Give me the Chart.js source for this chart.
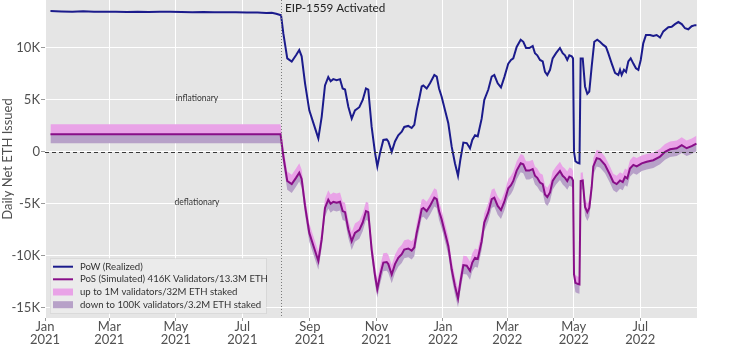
<!DOCTYPE html>
<html>
<head>
<meta charset="utf-8">
<script src="https://cdn.jsdelivr.net/npm/chart.js@4.4.1/dist/chart.umd.min.js"></script>
<style>
html,body{margin:0;padding:0;background:#fff;}
canvas{display:block;}
</style>
</head>
<body>
<canvas id="c" width="737" height="356"></canvas>
<script>
// x = days since 1 Jan 2021, y = thousands of ETH per day
const tickDays = [0, 59, 120, 181, 243, 304, 365, 424, 485, 546];
const tickLabels = [["Jan","2021"],["Mar","2021"],["May","2021"],["Jul","2021"],["Sep","2021"],["Nov","2021"],["Jan","2022"],["Mar","2022"],["May","2022"],["Jul","2022"]];
const yTicks = [-15, -10, -5, 0, 5, 10];
const activationDay = 216;

const powDays = [5,15,25,35,45,55,65,75,85,95,105,115,125,135,145,155,165,175,185,195,203,208,212,215,216.5,
218.6,222.2,226.3,230.2,233.2,235.4,238.5,242.4,246.7,250.7,253.8,256.8,259.8,262,264.4,267.5,270.6,273,275.2,278.2,281.3,284.3,288.3,291.4,294.4,296.5,299.6,302.7,304.8,307.3,310.3,313.4,314.9,318,321,324,327.2,329.5,333.2,336.3,338.7,340.9,343,345.5,347,350.1,353.1,357.1,359.3,361.4,363.8,366.9,369.9,373,376,378.8,380.9,383.7,386.8,389.8,391.9,394.4,396.9,400.5,402.9,406.6,409.7,412.1,415.2,418.2,421.3,424.9,427.4,429.5,432.6,436.3,438.7,441.2,444.2,447.3,449.4,451.5,454,456.5,458.6,460.7,463.2,465.6,468.7,472.3,474.8,476.9,479,480.9,483.1,484.3,485.2,486.5,488.5,490.2,491.3,493.2,495.3,497.4,499.2,501.4,503.8,506.5,509,512,514.5,516.6,519.8,522.8,525.8,527.4,528.9,531,532.9,535,537.2,539.6,542,544.2,546.4,548.7,551.2,554.9,557.9,561,564.1,567.1,571.7,574.8,577.8,580.9,584,587,590,593.1,596.2,597.5];
const powValues = [13.55,13.52,13.5,13.53,13.5,13.48,13.5,13.47,13.5,13.46,13.48,13.5,13.47,13.45,13.47,13.45,13.43,13.45,13.42,13.42,13.38,13.4,13.3,13.2,13.15,
11.4,9.0,8.7,9.3,9.8,9.2,6.6,4.0,2.6,1.3,3.4,6.4,7.2,6.8,7.0,6.9,7.0,6.1,6.0,4.35,3.2,4.0,4.3,5.0,6.1,6.0,2.4,-0.1,-1.4,-0.1,1.15,1.2,1.0,0.0,1.0,1.6,1.95,2.4,2.5,2.3,2.6,4.0,5.0,6.3,6.4,6.1,6.6,7.4,7.25,6.1,5.3,4.0,2.75,0.5,-1.1,-2.3,-0.8,0.9,0.85,0.35,1.15,1.6,1.5,3.2,5.0,6.0,7.25,7.4,6.6,6.2,7.2,8.5,8.85,9.0,10.1,10.8,10.6,10.0,10.0,10.2,9.5,9.3,8.85,8.7,7.7,7.4,7.9,9.0,9.5,10.0,9.5,9.3,8.85,9.3,9.2,9.0,0.0,-0.9,-1.05,-1.1,9.0,9.0,6.3,5.6,5.8,8.2,10.6,10.8,10.6,10.3,10.1,9.5,8.5,7.6,7.4,7.9,7.4,7.9,7.7,8.7,9.0,8.5,8.05,7.9,8.85,10.45,11.25,11.25,11.15,11.25,11.0,11.6,12.0,12.05,12.3,12.5,12.3,11.9,11.8,12.1,12.2,12.2];

const posDays = [5,216,
218.6,222.2,226.3,230.2,233.2,235.4,238.5,242.4,246.7,250.7,253.8,256.8,259.8,262,264.4,267.5,270.6,273,275.2,278.2,281.3,284.3,288.3,291.4,294.4,296.5,299.6,302.7,304.8,307.3,310.3,313.4,314.9,318,321,324,327.2,329.5,333.2,336.3,338.7,340.9,343,345.5,347,350.1,353.1,357.1,359.3,361.4,363.8,366.9,369.9,373,376,378.8,380.9,383.7,386.8,389.8,391.9,394.4,396.9,400.5,402.9,406.6,409.7,412.1,415.2,418.2,421.3,424.9,427.4,429.5,432.6,436.3,438.7,441.2,444.2,447.3,449.4,451.5,454,456.5,458.6,460.7,463.2,465.6,468.7,472.3,474.8,476.9,479,480.9,483.1,484.3,485.2,486.5,488.5,490.2,491.3,493.2,495.3,497.4,499.2,501.4,502.9,506,509,513.6,518.2,521.2,524.3,527.4,529.9,532,534.1,536.5,539.6,542.7,547.3,551.9,557.9,564.1,568.7,573.3,579.4,584,588.5,593.1,597.5];
const posValues = [1.7,1.7,
-0.4,-2.8,-3.1,-2.5,-2.0,-2.6,-5.2,-7.8,-9.2,-10.5,-8.4,-5.4,-4.6,-5.0,-4.8,-4.9,-4.8,-5.7,-5.8,-7.45,-8.6,-7.8,-7.5,-6.8,-5.7,-5.8,-9.4,-11.9,-13.2,-11.9,-10.65,-10.6,-10.8,-11.8,-10.8,-10.2,-9.85,-9.4,-9.3,-9.5,-9.2,-7.8,-6.8,-5.5,-5.4,-5.7,-5.2,-4.4,-4.55,-5.7,-6.5,-7.8,-9.05,-11.3,-12.9,-14.1,-12.6,-10.9,-10.95,-11.45,-10.65,-10.2,-10.3,-8.6,-6.8,-5.8,-4.55,-4.4,-5.2,-5.6,-4.8,-3.5,-3.2,-2.8,-1.8,-1.1,-1.2,-1.8,-1.8,-1.65,-2.3,-2.5,-2.95,-3.1,-4.1,-4.35,-3.9,-2.8,-2.3,-1.85,-2.3,-2.5,-2.8,-2.4,-2.5,-2.75,-11.8,-12.6,-12.7,-12.75,-2.8,-2.75,-5.3,-5.8,-5.4,-3.4,-1.4,-0.6,-0.7,-1.25,-2.2,-2.9,-3.1,-2.75,-2.9,-2.4,-2.55,-1.6,-1.25,-1.4,-1.1,-0.95,-0.8,-0.45,0.0,0.25,0.35,0.65,0.35,0.55,0.8];
const posHigh = [2.65,2.65,
0.5,-1.9,-2.2,-1.6,-1.1,-1.7,-4.3,-6.9,-8.3,-9.6,-7.5,-4.5,-3.7,-4.1,-3.9,-4.0,-3.9,-4.8,-4.9,-6.55,-7.7,-6.9,-6.6,-5.9,-4.8,-4.9,-8.5,-11.0,-12.3,-11.0,-9.75,-9.7,-9.9,-10.9,-9.9,-9.3,-8.95,-8.5,-8.4,-8.6,-8.3,-6.9,-5.9,-4.6,-4.5,-4.8,-4.3,-3.5,-3.65,-4.8,-5.6,-6.9,-8.15,-10.4,-12.0,-13.2,-11.7,-10.0,-10.05,-10.55,-9.75,-9.3,-9.4,-7.7,-5.9,-4.9,-3.65,-3.5,-4.3,-4.7,-3.9,-2.6,-2.3,-1.9,-0.9,-0.2,-0.3,-0.9,-0.9,-0.75,-1.4,-1.6,-2.05,-2.2,-3.2,-3.45,-3.0,-1.9,-1.4,-0.95,-1.4,-1.6,-1.9,-1.5,-1.6,-1.85,-11.0,-11.85,-12.0,-12.05,-2.0,-1.95,-4.5,-5.0,-4.6,-2.6,-0.6,0.2,0.1,-0.45,-1.4,-2.1,-2.3,-1.95,-2.1,-1.6,-1.75,-0.8,-0.45,-0.6,-0.35,-0.2,-0.05,0.3,0.75,1.0,1.1,1.4,1.1,1.3,1.55];
const posLow = [0.83,0.83,
-1.25,-3.65,-3.95,-3.35,-2.85,-3.45,-6.05,-8.65,-10.05,-11.35,-9.25,-6.25,-5.45,-5.85,-5.65,-5.75,-5.65,-6.55,-6.65,-8.3,-9.45,-8.65,-8.35,-7.65,-6.55,-6.65,-10.25,-12.75,-14.05,-12.75,-11.5,-11.45,-11.65,-12.65,-11.65,-11.05,-10.7,-10.25,-10.15,-10.35,-10.05,-8.65,-7.65,-6.35,-6.25,-6.55,-6.05,-5.25,-5.4,-6.55,-7.35,-8.65,-9.9,-12.15,-13.75,-14.95,-13.45,-11.75,-11.8,-12.3,-11.5,-11.05,-11.15,-9.45,-7.65,-6.65,-5.4,-5.25,-6.05,-6.45,-5.65,-4.35,-4.05,-3.65,-2.65,-1.95,-2.05,-2.65,-2.65,-2.5,-3.15,-3.35,-3.8,-3.95,-4.95,-5.2,-4.75,-3.65,-3.15,-2.7,-3.15,-3.35,-3.65,-3.25,-3.35,-3.6,-12.65,-13.5,-13.6,-13.65,-3.65,-3.6,-6.15,-6.65,-6.25,-4.2,-2.2,-1.4,-1.5,-2.05,-3.0,-3.7,-3.9,-3.55,-3.7,-3.2,-3.35,-2.4,-2.05,-2.2,-1.85,-1.7,-1.55,-1.2,-0.75,-0.5,-0.4,-0.1,-0.4,-0.2,0.05];

const legendLabels = ["PoW (Realized)", "PoS (Simulated) 416K Validators/13.3M ETH", "up to 1M validators/32M ETH staked", "down to 100K validators/3.2M ETH staked"];

const C_POW = '#1b1b8c', C_POS = '#880e88', C_UP = '#e9a3e7', C_DOWN = '#b7a1c8';
const FONT = 'Lato, "Open Sans", sans-serif';

const pts = (xs, ys) => xs.map((x, i) => ({x: x, y: ys[i]}));

const decor = {
  id: 'decor',
  beforeDraw(chart) {
    const {ctx, chartArea: a} = chart;
    ctx.save();
    ctx.fillStyle = '#e5e5e5';
    ctx.fillRect(a.left, a.top, a.right - a.left, a.bottom - a.top);
    ctx.restore();
  },
  afterDatasetsDraw(chart) {
    const {ctx, chartArea: a, scales: {x, y}} = chart;
    ctx.save();
    const y0 = Math.round(y.getPixelForValue(0)) + 0.5;
    ctx.strokeStyle = '#3a3a3a'; ctx.lineWidth = 1; ctx.setLineDash([4, 3]);
    ctx.beginPath(); ctx.moveTo(a.left, y0); ctx.lineTo(a.right, y0); ctx.stroke();
    const xv = Math.round(x.getPixelForValue(activationDay)) + 0.5;
    ctx.strokeStyle = '#7a7a7a'; ctx.setLineDash([1, 2]);
    ctx.beginPath(); ctx.moveTo(xv, a.top); ctx.lineTo(xv, a.bottom); ctx.stroke();
    ctx.restore();
  },
  afterDraw(chart) {
    const {ctx, scales: {x, y}} = chart;
    ctx.save();
    const xv = x.getPixelForValue(activationDay);
    ctx.fillStyle = '#222';
    ctx.font = '11.7px ' + FONT;
    ctx.textBaseline = 'alphabetic'; ctx.textAlign = 'left';
    ctx.fillText('EIP-1559 Activated', xv + 4.5, 11.7);
    ctx.font = '8.5px ' + FONT; ctx.fillStyle = '#333';
    ctx.textAlign = 'center'; ctx.textBaseline = 'middle';
    ctx.fillText('inflationary', 197, 98);
    ctx.fillText('deflationary', 197, 202);
    // legend
    ctx.fillStyle = '#ebebeb';
    ctx.fillRect(50, 258.5, 216, 55);
    ctx.strokeStyle = 'rgba(0,0,0,0.06)'; ctx.lineWidth = 1;
    ctx.strokeRect(50.5, 258.5, 216, 55);
    const rows = [266.7, 279.3, 292, 304.7];
    ctx.lineWidth = 2;
    ctx.strokeStyle = C_POW; ctx.beginPath(); ctx.moveTo(53, rows[0]); ctx.lineTo(73, rows[0]); ctx.stroke();
    ctx.strokeStyle = C_POS; ctx.beginPath(); ctx.moveTo(53, rows[1]); ctx.lineTo(73, rows[1]); ctx.stroke();
    ctx.fillStyle = C_UP; ctx.fillRect(53, rows[2] - 3.5, 20, 7);
    ctx.fillStyle = C_DOWN; ctx.fillRect(53, rows[3] - 3.5, 20, 7);
    ctx.fillStyle = '#333'; ctx.font = '9.6px ' + FONT;
    ctx.textAlign = 'left'; ctx.textBaseline = 'middle';
    legendLabels.forEach((t, i) => ctx.fillText(t, 80, rows[i]));
    ctx.restore();
  }
};

new Chart(document.getElementById('c'), {
  type: 'line',
  data: {
    datasets: [
      {label: legendLabels[0], data: pts(powDays, powValues), borderColor: C_POW, borderWidth: 2, pointRadius: 0, fill: false, tension: 0},
      {label: legendLabels[1], data: pts(posDays, posValues), borderColor: C_POS, borderWidth: 2, pointRadius: 0, fill: false, tension: 0},
      {label: legendLabels[2], data: pts(posDays, posHigh), borderWidth: 0, borderColor: 'rgba(0,0,0,0)', backgroundColor: C_UP, pointRadius: 0, fill: 1, tension: 0},
      {label: legendLabels[3], data: pts(posDays, posLow), borderWidth: 0, borderColor: 'rgba(0,0,0,0)', backgroundColor: C_DOWN, pointRadius: 0, fill: 1, tension: 0}
    ]
  },
  options: {
    responsive: false,
    animation: false,
    devicePixelRatio: 1,
    layout: {padding: {top: 0, right: 40, left: 0, bottom: 0}},
    plugins: {legend: {display: false}, tooltip: {enabled: false}},
    scales: {
      x: {
        type: 'linear', min: 0, max: 598,
        afterBuildTicks: s => { s.ticks = tickDays.map(v => ({value: v})); },
        afterFit: s => { s.height = 38; s.paddingLeft = 0; s.paddingRight = 0; },
        grid: {color: '#ffffff', lineWidth: 1, tickColor: '#9a9a9a', tickLength: 3, drawTicks: true},
        border: {display: false},
        ticks: {
          autoSkip: false, maxRotation: 0, padding: 0,
          color: '#505050', font: {family: FONT, size: 13, lineHeight: 0.95},
          callback: v => tickLabels[tickDays.indexOf(v)]
        }
      },
      y: {
        type: 'linear', min: -15.99, max: 14.62,
        afterBuildTicks: s => { s.ticks = yTicks.map(v => ({value: v})); },
        afterFit: s => { s.width = 45; s.paddingTop = 0; s.paddingBottom = 0; },
        grid: {color: '#ffffff', lineWidth: 1, tickColor: '#9a9a9a', tickLength: 4, drawTicks: true},
        border: {display: false},
        title: {display: true, text: 'Daily Net ETH Issued', color: '#505050', font: {family: FONT, size: 13}, padding: {top: 0, bottom: 0}},
        ticks: {
          padding: 1, color: '#505050', font: {family: FONT, size: 13},
          callback: v => v === 0 ? '0' : v + 'K'
        }
      }
    }
  },
  plugins: [decor]
});
</script>
</body>
</html>
